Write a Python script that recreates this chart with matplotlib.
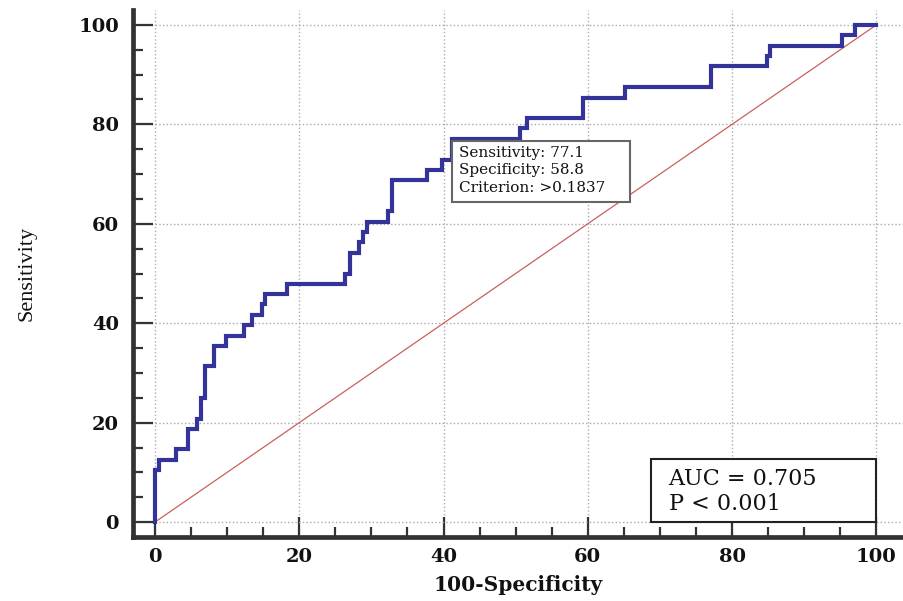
import matplotlib
matplotlib.use('Agg')
from matplotlib import pyplot as plt
from matplotlib.patches import Rectangle
from matplotlib.ticker import MultipleLocator

# ROC steps: x (100-specificity) where each rise happens, and the sensitivity reached
fpr = [0, 0.5, 2.9, 4.6, 5.8, 6.4, 7.0, 8.2, 9.9, 12.4, 13.4, 14.8, 15.2, 18.3,
       26.4, 27.0, 28.3, 28.8, 29.4, 32.3, 32.8, 37.7, 39.8, 41.2, 50.6, 51.6,
       59.4, 65.2, 77.1, 84.8, 85.2, 95.2, 97.1]
sens = [10.4, 12.5, 14.6, 18.8, 20.8, 25.0, 31.3, 35.4, 37.5, 39.6, 41.7, 43.8,
        45.8, 47.9, 50.0, 54.2, 56.3, 58.3, 60.4, 62.5, 68.8, 70.8, 72.9, 77.1,
        79.2, 81.3, 85.4, 87.5, 91.7, 93.8, 95.8, 97.9, 100.0]

cut_fpr, cut_sens, cut_spec, criterion = 41.2, 77.1, 58.8, '>0.1837'
auc, p_text = 0.705, 'P < 0.001'
ticks = [0, 20, 40, 60, 80, 100]

W, H = 904, 601
fig = plt.figure(figsize=(W / 100, H / 100), dpi=100)
# axes box in pixels: left 133, right 903, top 10, bottom 537
ax = fig.add_axes([133 / W, (H - 537) / H, (903 - 133) / W, (537 - 10) / H])

x = fpr + [100]
y = [0] + sens
ax.plot([0, 100], [0, 100], color='#c8605c', lw=0.9, zorder=2)
ax.plot(x, y, drawstyle='steps-pre', color='#333399', lw=3.0, zorder=3,
        solid_joinstyle='miter')

ax.set_xlim(-3.05, 103.7)
ax.set_ylim(-3.0, 103.0)
ax.set_xticks(ticks)
ax.set_yticks(ticks)
ax.xaxis.set_minor_locator(MultipleLocator(5))
ax.yaxis.set_minor_locator(MultipleLocator(5))

for s in ['top', 'right']:
    ax.spines[s].set_visible(False)
for s in ['left', 'bottom']:
    ax.spines[s].set_linewidth(3.4)
    ax.spines[s].set_color('#333333')

ax.tick_params(which='major', direction='in', length=14.4, width=1.6, color='#333333')
ax.tick_params(which='minor', direction='in', length=7.2, width=1.6, color='#333333')
ax.tick_params(axis='y', which='major', pad=10)
ax.tick_params(axis='x', which='major', pad=8)
for lab in ax.get_xticklabels() + ax.get_yticklabels():
    lab.set_fontfamily('DejaVu Serif')
    lab.set_fontweight('bold')
    lab.set_fontsize(14)
    lab.set_color('#111111')

ax.grid(True, which='major', color='#aaaaaa', linestyle=':', linewidth=1.0)
ax.set_axisbelow(True)

ax.set_xlabel('100-Specificity', fontfamily='DejaVu Serif', fontweight='bold',
              fontsize=14.5, color='#111111')
ax.xaxis.set_label_coords(0.5, -0.072)
ax.set_ylabel('Sensitivity', fontfamily='Liberation Serif', fontsize=16, color='#111111')
ax.yaxis.set_label_coords(-0.125, 0.5)

# criterion box anchored at the cut-off point
ax.add_patch(Rectangle((cut_fpr, cut_sens - 0.4), 24.6, -12.3, facecolor='white',
                       edgecolor='#666666', lw=1.5, zorder=4))
ax.text(cut_fpr + 1.0, cut_sens - 1.4,
        'Sensitivity: %.1f\nSpecificity: %.1f\nCriterion: %s' % (cut_sens, cut_spec, criterion),
        fontfamily='DejaVu Serif', fontsize=11, va='top', ha='left',
        linespacing=1.32, color='#111111', zorder=5)

# AUC box
ax.add_patch(Rectangle((68.8, 0), 31.2, 12.7, facecolor='white',
                       edgecolor='#222222', lw=1.5, zorder=4))
ax.text(71.2, 7.4, 'AUC = %.3f' % auc, fontfamily='DejaVu Serif', fontsize=16,
        va='baseline', ha='left', color='#111111', zorder=5)
ax.text(71.2, 2.4, p_text, fontfamily='DejaVu Serif', fontsize=16,
        va='baseline', ha='left', color='#111111', zorder=5)

fig.savefig('out.png', dpi=100)
